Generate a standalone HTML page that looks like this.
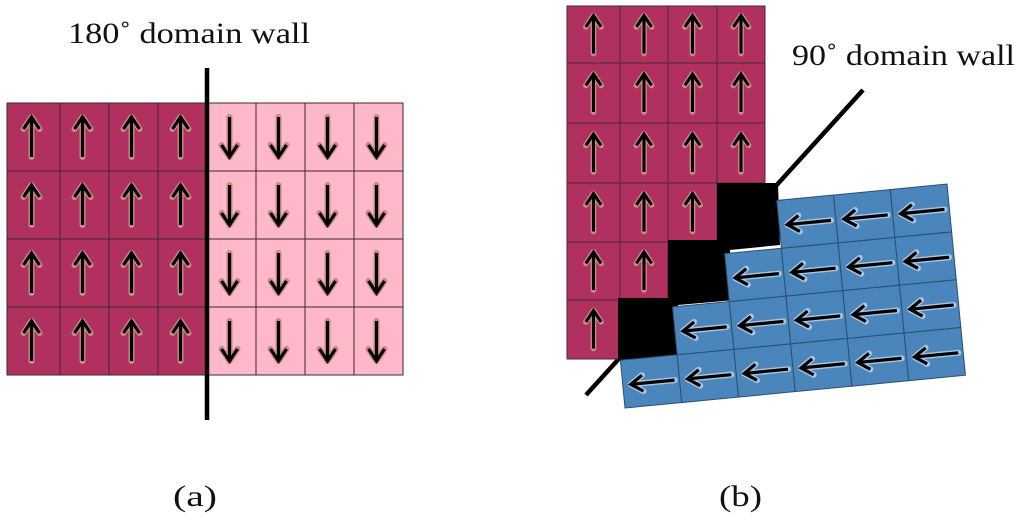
<!DOCTYPE html>
<html><head><meta charset="utf-8"><style>
html,body{margin:0;padding:0;background:#fff;}
svg{display:block;}
text{font-family:"Liberation Serif",serif;fill:#111;}
</style></head><body>
<svg id="s" width="1024" height="528" viewBox="0 0 1024 528" xmlns="http://www.w3.org/2000/svg">
<defs>
<g id="up"><path d="M0,20 L0,-18 M-8,-8 L0,-20 L8,-8" fill="none" stroke="#c98a80" stroke-width="6" stroke-linecap="round" stroke-linejoin="round"/><path d="M0,20 L0,-18 M-8,-8 L0,-20 L8,-8" fill="none" stroke="#000" stroke-width="3.2" stroke-linejoin="miter"/></g>
<g id="dn"><use href="#up" transform="rotate(180)"/></g>
<g id="lf"><path d="M22,0 L-20,0 M-10,-8 L-22,0 L-10,8" fill="none" stroke="#a9c6e0" stroke-width="6" stroke-linecap="round" stroke-linejoin="round"/><path d="M22,0 L-20,0 M-10,-8 L-22,0 L-10,8" fill="none" stroke="#000" stroke-width="3.2"/></g>
</defs>
<g id="a"></g>
<line x1="207" y1="68" x2="207" y2="420" stroke="#000" stroke-width="4.5"/>
<line x1="586" y1="395" x2="863" y2="90" stroke="#000" stroke-width="4.5"/>
<g id="b"></g>
<polygon points="717,183 778,183 780,245 730,250 735,300 678,305 682,355 618,360 618,298 668,298 668,240 717,240" fill="#000"/>
<g id="c" transform="translate(625,408) rotate(-5.5)"></g>
<text x="68" y="43" font-size="30" textLength="242" lengthAdjust="spacingAndGlyphs">180˚ domain wall</text>
<text x="792" y="65" font-size="30" textLength="223" lengthAdjust="spacingAndGlyphs">90˚ domain wall</text>
<text x="173" y="506" font-size="30" textLength="44" lengthAdjust="spacingAndGlyphs">(a)</text>
<text x="719" y="506" font-size="30" textLength="43" lengthAdjust="spacingAndGlyphs">(b)</text>
</svg>
<script>
var NS="http://www.w3.org/2000/svg";
function el(p,t,a){var e=document.createElementNS(NS,t);for(var k in a)e.setAttribute(k,a[k]);p.appendChild(e);return e;}
var A=document.getElementById('a');
var xs=[7,60,109,158,207,256,305,354,403],ys=[103,171,239,307,375];
for(var r=0;r<4;r++)for(var c=0;c<8;c++){
 var x=xs[c],y=ys[r],w=xs[c+1]-x,h=ys[r+1]-y;
 el(A,'rect',{x:x,y:y,width:w,height:h,fill:c<4?'#b0305f':'#ffb8ca',stroke:'#3a2a2a','stroke-width':1});
 el(A,'use',{href:c<4?'#up':'#dn',transform:'translate('+(x+w/2-2)+','+(y+h/2)+')'});
}
var B=document.getElementById('b');
var bx=[567,620,668,717,765],by=[6,63,123,183,242,300,359];
var maxc=[4,4,4,3,2,1];
for(var r=0;r<6;r++)for(var c=0;c<maxc[r];c++){
 var x=bx[c],y=by[r],w=bx[c+1]-x,h=by[r+1]-y;
 el(B,'rect',{x:x,y:y,width:w,height:h,fill:'#b0305f',stroke:'#4a2a35','stroke-width':1});
 el(B,'use',{href:'#up',transform:'translate('+(x+w/2)+','+(y+h/2)+') scale(0.95)'});
}
var C=document.getElementById('c');
var start=[0,1,2,3];
for(var r=0;r<4;r++)for(var c=start[r];c<6;c++){
 var x=c*57,y=-(r+1)*48;
 el(C,'rect',{x:x,y:y,width:57,height:48,fill:'#4a86bb',stroke:'#2e4e6e','stroke-width':1});
 el(C,'use',{href:'#lf',transform:'translate('+(x+30)+','+(y+25)+')'});
}
</script>
</body></html>
